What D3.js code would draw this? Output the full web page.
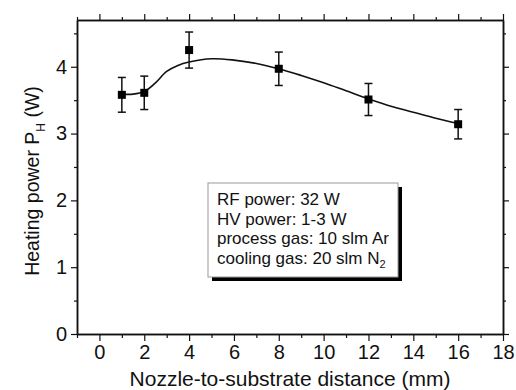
<!DOCTYPE html>
<html>
<head>
<meta charset="utf-8">
<script src="https://cdn.jsdelivr.net/npm/d3@7"></script>
<style>
  body { margin: 0; background: #fff; }
  text { font-family: "Liberation Sans", Arial, sans-serif; fill: #111; }
</style>
</head>
<body>
<div id="chart"></div>
<script>
// measured points
var distance = [1, 2, 4, 8, 12, 16];
var power = [3.58, 3.61, 4.25, 3.97, 3.51, 3.14];
var powerErr = [0.26, 0.25, 0.27, 0.25, 0.24, 0.22];

// spline through the points
var fitX = [1, 1.5, 2, 2.5, 3, 3.5, 4, 5, 6, 7, 8, 9, 10, 11, 12, 13, 14, 15, 16];
var fitY = [3.59, 3.59, 3.63, 3.76, 3.93, 4.02, 4.07, 4.12, 4.10, 4.05, 3.97, 3.87, 3.76, 3.64, 3.52, 3.41, 3.32, 3.23, 3.15];

var xTicks = [0, 2, 4, 6, 8, 10, 12, 14, 16, 18];
var yTicks = [0, 1, 2, 3, 4];

var infoLines = ["RF power: 32 W", "HV power: 1-3 W", "process gas: 10 slm Ar", "cooling gas: 20 slm N"];

var svgWidth = 516;
var svgHeight = 390;

var margin = {
  top: 20,
  right: 13,
  bottom: 56,
  left: 77
};

var width = svgWidth - margin.left - margin.right;
var height = svgHeight - margin.top - margin.bottom;

var svg = d3.select("#chart")
            .append("svg")
            .attr("width", svgWidth)
            .attr("height", svgHeight);

var chartGroup = svg.append("g")
  .attr("transform", `translate(${margin.left}, ${margin.top})`);

var xScale = d3.scaleLinear().domain([-1, 18]).range([0, width]);
var yScale = d3.scaleLinear().domain([0, 4.7]).range([height, 0]);

var minorX = d3.range(-1, 18.01, 1).filter(d => xTicks.indexOf(d) < 0);
var minorY = d3.range(0.5, 4.7, 1);

function styleAxis(g) {
  g.selectAll("path").attr("stroke", "#111").attr("stroke-width", 1.5);
  g.selectAll("line").attr("stroke", "#111").attr("stroke-width", 1.2);
  g.selectAll("text").attr("font-size", "20px").attr("fill", "#111")
    .style("font-family", "'Liberation Sans', Arial, sans-serif");
}

// bottom axis
chartGroup.append("g")
  .attr("transform", `translate(0, ${height})`)
  .call(d3.axisBottom(xScale).tickValues(xTicks).tickSize(7).tickPadding(4).tickSizeOuter(0))
  .call(styleAxis);
chartGroup.append("g")
  .attr("transform", `translate(0, ${height})`)
  .call(d3.axisBottom(xScale).tickValues(minorX).tickSize(4).tickFormat("").tickSizeOuter(0))
  .call(styleAxis);

// top axis
chartGroup.append("g")
  .call(d3.axisTop(xScale).tickValues(xTicks).tickSize(6).tickFormat("").tickSizeOuter(0))
  .call(styleAxis);
chartGroup.append("g")
  .call(d3.axisTop(xScale).tickValues(minorX).tickSize(3).tickFormat("").tickSizeOuter(0))
  .call(styleAxis);

// left axis
chartGroup.append("g")
  .call(d3.axisLeft(yScale).tickValues(yTicks).tickSize(6).tickPadding(4).tickFormat(d3.format("d")).tickSizeOuter(0))
  .call(styleAxis);
chartGroup.append("g")
  .call(d3.axisLeft(yScale).tickValues(minorY).tickSize(3).tickFormat("").tickSizeOuter(0))
  .call(styleAxis);

// right axis
chartGroup.append("g")
  .attr("transform", `translate(${width}, 0)`)
  .call(d3.axisRight(yScale).tickValues(yTicks).tickSize(6).tickFormat("").tickSizeOuter(0))
  .call(styleAxis);
chartGroup.append("g")
  .attr("transform", `translate(${width}, 0)`)
  .call(d3.axisRight(yScale).tickValues(minorY).tickSize(3).tickFormat("").tickSizeOuter(0))
  .call(styleAxis);

// fitted curve
var fit = fitX.map((x, i) => ({x: x, y: fitY[i]}));
chartGroup.append("path")
  .datum(fit)
  .attr("fill", "none")
  .attr("stroke", "#111")
  .attr("stroke-width", 1.6)
  .attr("d", d3.line().x(d => xScale(d.x)).y(d => yScale(d.y)).curve(d3.curveCatmullRom));

// error bars + markers
var pts = distance.map((x, i) => ({x: x, y: power[i], e: powerErr[i]}));
var errG = chartGroup.selectAll(".err").data(pts).enter().append("g")
  .attr("stroke", "#111").attr("stroke-width", 1.5);
errG.append("line")
  .attr("x1", d => xScale(d.x)).attr("x2", d => xScale(d.x))
  .attr("y1", d => yScale(d.y - d.e)).attr("y2", d => yScale(d.y + d.e));
errG.append("line")
  .attr("x1", d => xScale(d.x) - 4).attr("x2", d => xScale(d.x) + 4)
  .attr("y1", d => yScale(d.y + d.e)).attr("y2", d => yScale(d.y + d.e));
errG.append("line")
  .attr("x1", d => xScale(d.x) - 4).attr("x2", d => xScale(d.x) + 4)
  .attr("y1", d => yScale(d.y - d.e)).attr("y2", d => yScale(d.y - d.e));

chartGroup.selectAll(".pt").data(pts).enter().append("rect")
  .attr("x", d => xScale(d.x) - 4)
  .attr("y", d => yScale(d.y) - 4)
  .attr("width", 8).attr("height", 8)
  .attr("fill", "#000");

// info box
var bx = 208 - margin.left, by = 183 - margin.top, bw = 190, bh = 94;
chartGroup.append("rect")
  .attr("x", bx + 4).attr("y", by + 4).attr("width", bw).attr("height", bh)
  .attr("fill", "#000");
chartGroup.append("rect")
  .attr("x", bx).attr("y", by).attr("width", bw).attr("height", bh)
  .attr("fill", "#fff").attr("stroke", "#999").attr("stroke-width", 1);

infoLines.forEach(function(t, i) {
  var txt = chartGroup.append("text")
    .attr("x", bx + 9)
    .attr("y", by + 22 + i * 19.7)
    .attr("font-size", "17px")
    .text(t);
  if (i === 3) {
    txt.append("tspan").attr("dy", 4).attr("font-size", "11px").text("2");
  }
});

// axis titles
svg.append("text")
  .attr("x", margin.left + width / 2)
  .attr("y", 386)
  .attr("text-anchor", "middle")
  .attr("font-size", "21px")
  .text("Nozzle-to-substrate distance (mm)");

var yl = svg.append("text")
  .attr("transform", "translate(39, 181) rotate(-90)")
  .attr("text-anchor", "middle")
  .attr("font-size", "19.5px")
  .text("Heating power P");
yl.append("tspan").attr("dy", 6).attr("font-size", "12px").text("H");
yl.append("tspan").attr("dy", -6).text(" (W)");
</script>
</body>
</html>
